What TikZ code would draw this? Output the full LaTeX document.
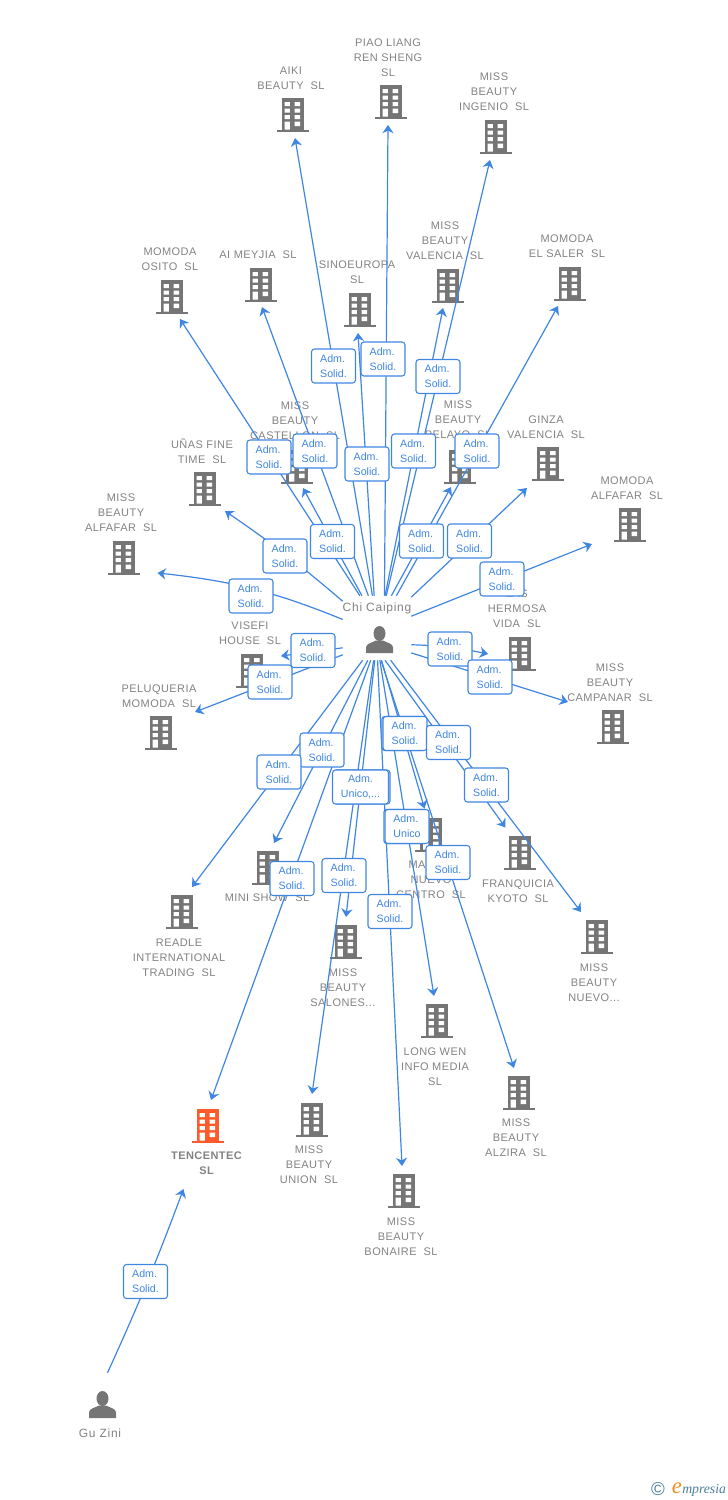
\documentclass[tikz,border=0pt]{standalone}
\usepackage{fontspec}
\setmainfont[LetterSpace=4]{Liberation Sans}
\newfontfamily\lblfont{Liberation Sans}
\newfontfamily\persfont[LetterSpace=6]{Liberation Sans}
\newfontfamily\logofont{Liberation Serif}
\usetikzlibrary{arrows.meta}
\definecolor{icongray}{HTML}{757575}
\definecolor{namegray}{HTML}{828282}
\definecolor{linkblue}{HTML}{3F86E2}
\definecolor{hotred}{HTML}{FF5A2B}
\definecolor{logoteal}{HTML}{4A7E9B}
\definecolor{logoorange}{HTML}{F08A24}
\tikzset{
  iconbox/.style={minimum width=24pt,minimum height=25.5pt,inner sep=0pt},
  nametext/.style={align=center,text=namegray,font=\fontsize{8.25}{11.25}\selectfont,inner sep=0pt,yshift=-0.75pt},
  link/.style={draw=linkblue,line width=0.9pt,-{Stealth[length=6.2pt,width=8.4pt,inset=2pt]}},
  tag/.style={draw=linkblue,line width=0.8pt,rounded corners=2.2pt,fill=white,text=linkblue,
    minimum width=33pt,minimum height=25.5pt,inner sep=0pt,align=left,
    font=\lblfont\fontsize{8}{11.25}\selectfont},
  persbox/.style={rectangle,minimum width=51pt,minimum height=48pt,inner sep=0pt},
}
\newcommand{\bldg}[4][icongray]{%
  \node[iconbox] (b-#2) at (#3,#4) {};
  \begin{scope}[shift={(#3,#4)}]
    \fill[#1] (-11,-17) rectangle (11,14.5);
    \fill[#1] (-16,14.5) rectangle (16,17);
    \fill[white] (-8,-13) rectangle (-2.7,-9) (2.2,-13) rectangle (7.7,-9)
                 (-8,-6.5) rectangle (-2.7,-2.5) (2.2,-6.5) rectangle (7.7,-2.5)
                 (-8,0) rectangle (-2.7,4) (2.2,0) rectangle (7.7,4)
                 (-8,6.5) rectangle (-2.7,14.5) (2.2,6.5) rectangle (7.7,11);
  \end{scope}}
\newcommand{\persicon}[2]{%
  \begin{scope}[shift={(#1,#2)}]
    \fill[icongray] (0,-6) ellipse [x radius=6,y radius=7.5];
    \fill[icongray] (-13.5,13.5) -- (-13.5,8) .. controls (-13.5,4) and (-8,3.5) .. (-3.5,1)
      -- (3.5,1) .. controls (8,3.5) and (13.5,4) .. (13.5,8) -- (13.5,13.5) -- cycle;
  \end{scope}}
\newcommand{\conn}[4][]{%
  \coordinate (t-#2) at (#4);
  \draw[link,#1] (cp.#3) to (t-#2);}
\newcommand{\lab}[2]{\node[tag] (l-#1) at (#2) {Adm.\\Solid.};}
\begin{document}
\begin{tikzpicture}[x=0.75pt,y=-0.75pt]
\useasboundingbox (0,0) rectangle (728,1500);
% buildings
\bldg{aiki}{292.5}{115}
\bldg{piao}{390.5}{102}
\bldg{ingenio}{495.5}{137}
\bldg{osito}{171.5}{297}
\bldg{meyjia}{260.5}{285}
\bldg{sino}{359.5}{310}
\bldg{valencia}{447.5}{286}
\bldg{saler}{569.5}{284}
\bldg{castellon}{297}{467}
\bldg{pelayo}{460}{467}
\bldg{ginza}{548}{464}
\bldg{unas}{204.5}{489}
\bldg{malfafar}{629.5}{525}
\bldg{alfafar}{123.5}{558}
\bldg{visefi}{252}{671}
\bldg{hermosa}{519.5}{654}
\bldg{campanar}{612.5}{727}
\bldg{peluq}{160.5}{733}
\bldg{mini}{267.5}{868}
\bldg{readle}{181.5}{912}
\bldg{marina}{431}{835}
\bldg{franq}{519.5}{853}
\bldg{salones}{345.5}{942}
\bldg{nuevo}{596.5}{937}
\bldg{longwen}{436.5}{1021}
\bldg{alzira}{518.5}{1093}
\bldg{union}{311.5}{1120}
\bldg{bonaire}{403.5}{1191}
\bldg[hotred]{tencentec}{207.5}{1126}
% names
\node[nametext] (n-aiki) at (291,77.5) {AIKI\\BEAUTY~~SL};
\node[nametext] (n-piao) at (388,56.5) {PIAO LIANG\\REN SHENG\\SL};
\node[nametext] (n-ingenio) at (494,91) {MISS\\BEAUTY\\INGENIO~~SL};
\node[nametext] (n-osito) at (170,258.5) {MOMODA\\OSITO~~SL};
\node[nametext] (n-meyjia) at (258,254) {AI MEYJIA~~SL};
\node[nametext] (n-sino) at (357,271.5) {SINOEUROPA\\SL};
\node[nametext] (n-valencia) at (445,240) {MISS\\BEAUTY\\VALENCIA~~SL};
\node[nametext] (n-saler) at (567,245.5) {MOMODA\\EL SALER~~SL};
\node[nametext] (n-castellon) at (295,420) {MISS\\BEAUTY\\CASTELLON~~SL};
\node[nametext] (n-pelayo) at (458,419) {MISS\\BEAUTY\\PELAYO~~SL};
\node[nametext] (n-ginza) at (546,426.5) {GINZA\\VALENCIA~~SL};
\node[nametext] (n-unas) at (202,450.5) {UÑAS FINE\\TIME~~SL};
\node[nametext] (n-malfafar) at (627,487.5) {MOMODA\\ALFAFAR~~SL};
\node[nametext] (n-alfafar) at (121,512) {MISS\\BEAUTY\\ALFAFAR~~SL};
\node[nametext] (n-visefi) at (250,632.5) {VISEFI\\HOUSE~~SL};
\node[nametext] (n-hermosa) at (517,608) {LAS\\HERMOSA\\VIDA~~SL};
\node[nametext] (n-campanar) at (610,682) {MISS\\BEAUTY\\CAMPANAR~~SL};
\node[nametext] (n-peluq) at (159,695.5) {PELUQUERIA\\MOMODA~~SL};
\node[nametext] (n-mini) at (267,897) {MINI SHOW~~SL};
\node[nametext] (n-readle) at (179,957) {READLE\\INTERNATIONAL\\TRADING~~SL};
\node[nametext] (n-marina) at (431,879) {MARINA\\NUEVO\\CENTRO~~SL};
\node[nametext] (n-franq) at (518,890.5) {FRANQUICIA\\KYOTO~~SL};
\node[nametext] (n-salones) at (343,987) {MISS\\BEAUTY\\SALONES...};
\node[nametext] (n-nuevo) at (594,982) {MISS\\BEAUTY\\NUEVO...};
\node[nametext] (n-longwen) at (435,1066) {LONG WEN\\INFO MEDIA\\SL};
\node[nametext] (n-alzira) at (516,1137) {MISS\\BEAUTY\\ALZIRA~~SL};
\node[nametext] (n-union) at (309,1164) {MISS\\BEAUTY\\UNION~~SL};
\node[nametext] (n-bonaire) at (401,1236) {MISS\\BEAUTY\\BONAIRE~~SL};
\node[nametext,font=\bfseries\fontsize{8.25}{11.25}\selectfont] (n-tencentec) at (206.5,1162.5) {TENCENTEC\\SL};
% persons
\node[persbox] (cp) at (377,628) {};
\node[persbox] (gz) at (103,1405) {};
\persicon{379.5}{639.5}
\persicon{102.5}{1404.5}
\node[nametext,font=\persfont\fontsize{9}{11.25}\selectfont] (n-cp) at (377,607) {Chi Caiping};
\node[nametext,font=\persfont\fontsize{9}{11.25}\selectfont] (n-gz) at (100,1432) {Gu Zini};
% connectors
\conn{aiki}{98.9}{295,138}
\conn{piao}{77.7}{388,125}
\conn{ingenio}{74.3}{490,160}
\conn{valencia}{76}{443,308}
\conn{sino}{95.4}{358,333}
\conn{saler}{59.3}{558,306}
\conn{castellon}{115.1}{303,488}
\conn{pelayo}{66.4}{451,487}
\conn{meyjia}{105.7}{262,307}
\conn{osito}{118}{180,319}
\conn[bend right=3]{unas}{142.6}{225,511}
\conn[bend right=8]{alfafar}{166.8}{157.5,573}
\conn{ginza}{42.4}{527,488}
\conn{malfafar}{19.4}{592,544}
\conn[bend left=5]{hermosa}{-26.6}{488,654}
\conn{campanar}{-36.3}{568,702}
\conn{visefi}{210.5}{281,656}
\conn{peluq}{218.5}{195,712}
\conn{readle}{246.4}{192,887}
\conn{mini}{254.3}{274,843}
\conn{tencentec}{259.4}{211,1100}
\conn{salones}{266.4}{346,917}
\conn{union}{264.6}{312,1094}
\conn{bonaire}{271.8}{402,1166}
\conn{longwen}{275.4}{434,996}
\conn{marina}{278.9}{424.5,808.5}
\conn{franq}{284}{505.5,827.5}
\conn{alzira}{277.1}{514,1068}
\conn{nuevo}{293.6}{581,912}
\coordinate (t-gz) at (183.5,1189);
\draw[link] (gz.82) to[bend right=2] (t-gz);
% tags
\lab{aiki}{333.5,366}
\lab{piao}{383,359}
\lab{ingenio}{438,376.5}
\lab{valencia}{413.5,451}
\lab{sino}{367,464}
\lab{meyjia}{315,451}
\lab{osito}{269,457}
\lab{saler}{477,451}
\lab{pelayo}{421.5,541}
\lab{ginza}{469.5,541}
\lab{castellon}{332.5,541.5}
\lab{unas}{285,556}
\lab{alfafar}{251,596}
\lab{malfafar}{502,579}
\lab{visefi}{313,650.5}
\lab{peluq}{270,682}
\lab{hermosa}{450,649}
\lab{campanar}{490,677}
\node[tag] (l-marina-u) at (403.8,733.5) {};
\lab{marina}{405,733.5}
\lab{franq}{448.5,742.5}
\lab{nuevo}{486.5,785}
\lab{mini}{322,750}
\lab{readle}{279,772}
\node[tag,minimum width=42pt] (l-salones-u) at (362,787) {};
\node[tag,minimum width=42pt,align=center] (l-salones) at (360.5,787) {Adm.\\Unico,...};
\node[tag] (l-longwen-u) at (405.8,826.5) {};
\node[tag] (l-longwen) at (407,826.5) {Adm.\\Unico};
\lab{alzira}{448,862.5}
\lab{tencentec}{292,878.5}
\lab{union}{344,875.5}
\lab{bonaire}{390,911.5}
\lab{gz}{145.5,1281.5}
% logo
\node[inner sep=0pt,text=logoteal,font=\lblfont\fontsize{14}{14}\selectfont] (logo-c) at (658,1489) {©};
\node[inner sep=0pt,text=logoorange,font=\logofont\itshape\fontsize{17}{17}\selectfont] (logo-e) at (677,1488) {e};
\node[inner sep=0pt,anchor=west,text=logoteal,font=\logofont\itshape\fontsize{10.3}{10}\selectfont] (logo-t) at (682,1490) {mpresia};
\end{tikzpicture}
\end{document}
